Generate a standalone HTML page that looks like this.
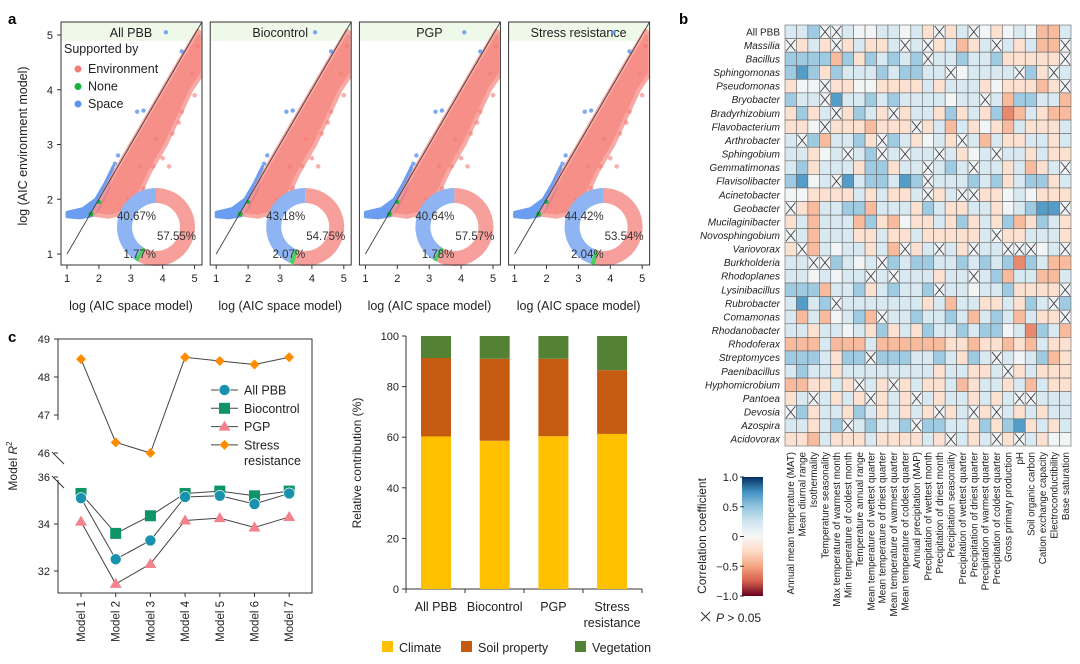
<!DOCTYPE html>
<html><head><meta charset="utf-8"><style>
html,body{margin:0;padding:0;background:#fff}
svg{display:block;font-family:"Liberation Sans",sans-serif}
</style></head><body>
<svg id="fig" width="1080" height="664" viewBox="0 0 1080 664" xmlns="http://www.w3.org/2000/svg">
<text x="8" y="24" font-size="15" font-weight="bold">a</text>
<text x="679" y="24" font-size="15" font-weight="bold">b</text>
<text x="8" y="342" font-size="15" font-weight="bold">c</text>
<g id="pa"></g><g id="pb"></g><g id="pc1"></g><g id="pc2"></g>
</svg>
<script>
const NS="http://www.w3.org/2000/svg";
function mk(p,t,a,txt){const e=document.createElementNS(NS,t);for(const k in a)e.setAttribute(k,a[k]);if(txt!==undefined)e.textContent=txt;p.appendChild(e);return e;}

// ---------- Panel a data ----------
const aTitles=["All PBB","Biocontrol","PGP","Stress resistance"];
const aEnvPct=[57.55,54.75,57.57,53.54];
const aNonePct=[1.77,2.07,1.78,2.04];
const aSpacePct=[40.67,43.18,40.64,44.42];
const aTicks=[1,2,3,4,5];
const redCloudX=[1.8,2.5,3.5,4.5,5.1,5.25,5.25,4.9,4.1,3.6,3.2,2.8,2.3];
const redCloudY=[1.72,2.5,3.5,4.5,5.08,5.0,4.3,4.0,3.0,2.5,2.0,1.75,1.68];
const blueCloudX=[1.0,1.0,1.5,1.9,2.2,2.45,2.3,2.0,1.8,1.4];
const blueCloudY=[1.68,1.76,1.83,2.0,2.3,2.6,2.2,1.85,1.7,1.66];
const redOutX=[3.4,3.7,4.0,4.3,4.6,4.9,5.0,3.0,2.9,4.5,3.8,5.1,4.2,3.3];
const redOutY=[2.2,2.6,2.75,3.2,3.6,4.3,3.9,1.9,2.0,3.4,3.1,4.8,2.6,2.6];
const blueOutX=[3.2,3.4,4.1,4.6,2.6,2.5];
const blueOutY=[3.6,3.62,5.05,4.7,2.8,2.65];

const pa=document.getElementById('pa');
aTitles.forEach((title,i)=>{
  const L=61+i*149.2,R=L+141,T=22,B=265;
  const sx=v=>L+6+(v-1)*31.9, sy=v=>254-(v-1)*54.75;
  const g=mk(pa,'g',{});
  
  
  mk(g,'rect',{x:L,y:T,width:R-L,height:19,fill:'#eef9ea'});
  mk(g,'text',{x:L+70,y:T+15,'font-size':12.5,'text-anchor':'middle',fill:'#222'},title);
  const cp=mk(g,'clipPath',{id:'clipA'+i});mk(cp,'rect',{x:L,y:T,width:R-L,height:B-T});
  const gg=mk(g,'g',{'clip-path':'url(#clipA'+i+')'});
  const bp=blueCloudX.map((x,k)=>sx(x)+','+sy(blueCloudY[k])).join(' ');
  mk(gg,'polygon',{points:bp,fill:'#5b93f0',opacity:0.9,'stroke':'#5b93f0','stroke-width':3,'stroke-linejoin':'round'});
  const rp=redCloudX.map((x,k)=>sx(x)+','+sy(redCloudY[k])).join(' ');
  mk(gg,'polygon',{points:rp,fill:'#f57c74',opacity:0.85,'stroke':'#f79b95','stroke-width':4,'stroke-linejoin':'round'});
  redOutX.forEach((x,k)=>mk(gg,'circle',{cx:sx(x),cy:sy(redOutY[k]),r:2.3,fill:'#f57c74',opacity:0.6}));
  blueOutX.forEach((x,k)=>mk(gg,'circle',{cx:sx(x),cy:sy(blueOutY[k]),r:2.2,fill:'#5b93f0',opacity:0.8}));
  mk(gg,'circle',{cx:sx(1.75),cy:sy(1.73),r:2.5,fill:'#17b33a'});
  mk(gg,'circle',{cx:sx(2.0),cy:sy(1.95),r:2,fill:'#17b33a'});
  mk(g,'line',{x1:sx(1),y1:sy(1),x2:sx(5.23),y2:T,stroke:'#333','stroke-width':0.8});
  // donut
  const cx=L+95,cy=227,ro=39,ri=24;
  const segs=[[aEnvPct[i],'#f7a09b'],[aNonePct[i],'#4ccf60'],[aSpacePct[i],'#8eb4f3']];
  let a0=0;
  segs.forEach(([p,c])=>{
    const a1=a0+p/100*2*Math.PI;
    const pt=(r,a)=>[cx+r*Math.sin(a),cy-r*Math.cos(a)];
    const lg=(a1-a0)>Math.PI?1:0;
    const [x1,y1]=pt(ro,a0),[x2,y2]=pt(ro,a1),[x3,y3]=pt(ri,a1),[x4,y4]=pt(ri,a0);
    mk(g,'path',{d:`M${x1},${y1}A${ro},${ro} 0 ${lg} 1 ${x2},${y2}L${x3},${y3}A${ri},${ri} 0 ${lg} 0 ${x4},${y4}Z`,fill:c});
    a0=a1;
  });
  mk(g,'text',{x:cx,y:cy-7,'font-size':11.5,'text-anchor':'end',fill:'#333'},aSpacePct[i].toFixed(2)+'%');
  mk(g,'text',{x:cx+1,y:cy+13,'font-size':11.5,fill:'#333'},aEnvPct[i].toFixed(2)+'%');
  mk(g,'text',{x:cx,y:cy+31,'font-size':11.5,'text-anchor':'end',fill:'#333'},aNonePct[i].toFixed(2)+'%');
  mk(g,'rect',{x:L,y:T,width:R-L,height:B-T,fill:'none',stroke:'#333','stroke-width':1});
  aTicks.forEach(t=>{
    mk(g,'line',{x1:sx(t),y1:B,x2:sx(t),y2:B+4,stroke:'#333'});
    mk(g,'text',{x:sx(t),y:B+17,'font-size':11,'text-anchor':'middle',fill:'#222'},t);
    if(i===0){
      mk(g,'line',{x1:L-4,y1:sy(t),x2:L,y2:sy(t),stroke:'#333'});
      mk(g,'text',{x:L-8,y:sy(t)+4,'font-size':11,'text-anchor':'end',fill:'#222'},t);
    }
  });
  mk(g,'text',{x:L+70,y:310,'font-size':12.5,'text-anchor':'middle',fill:'#222'},'log (AIC space model)');
});
(function(){
  const t=mk(pa,'text',{x:27,y:146,'font-size':12.5,'text-anchor':'middle',transform:'rotate(-90 27 146)',fill:'#222'},'log (AIC environment model)');
  
  mk(pa,'text',{x:64,y:53,'font-size':12.5,fill:'#222'},'Supported by');
  const ents=[['Environment','#f57c74'],['None','#17b33a'],['Space','#5b93f0']];
  ents.forEach((e,k)=>{
    const g=mk(pa,'g',{});
    
    
    mk(g,'circle',{cx:78,cy:69+k*17.5,r:3.5,fill:e[1]});
    mk(g,'text',{x:88,y:73+k*17.5,'font-size':12.5,fill:'#222'},e[0]);
  });
})();

// ---------- Panel b heatmap ----------
const rowNames=["All PBB","Massilia","Bacillus","Sphingomonas","Pseudomonas","Bryobacter","Bradyrhizobium","Flavobacterium","Arthrobacter","Sphingobium","Gemmatimonas","Flavisolibacter","Acinetobacter","Geobacter","Mucilaginibacter","Novosphingobium","Variovorax","Burkholderia","Rhodoplanes","Lysinibacillus","Rubrobacter","Comamonas","Rhodanobacter","Rhodoferax","Streptomyces","Paenibacillus","Hyphomicrobium","Pantoea","Devosia","Azospira","Acidovorax"];
const colNames=["Annual mean temperature (MAT)","Mean diurnal range","Isothermality","Temperature seasonality","Max temperature of warmest month","Min temperature of coldest month","Temperature annual range","Mean temperature of wettest quarter","Mean temperature of driest quarter","Mean temperature of warmest quarter","Mean temperature of coldest quarter","Annual precipitation (MAP)","Precipitation of wettest month","Precipitation of driest month","Precipitation seasonality","Precipitation of wettest quarter","Precipitation of driest quarter","Precipitation of warmest quarter","Precipitation of coldest quarter","Gross primary production","pH","Soil organic carbon","Cation exchange capacity","Electroconductibility","Base saturation"];
// codes: 1,2,3 = positive (0.2,0.45,0.7); p,q,s = negative (-0.2,-0.4,-0.6); 0 = ~0; x = P>0.05
const corrRows=["112xx1001101pxp1x0p010qq1x","xp1pxp1pp1x1xp1qp1x1p1qqx1","2222q2p21212x112112pppppx","232p2111212211x01111x2px1xx","p00xpp00pppp1p111p0pppqpx1","211x3112121111011x1q2211q","p2p1xp21pxp11p2p1p2sq1pqq","pp0xpppqpppxp1q1p0pq1ppp1","1x2q112px21p01px1q1pp11p1","11p01x12x1x11x1p01x11p1pp","12p111p22p11x121x11p1qp1xq","2301x3122132x111212p122p1","00pppp1p1pp1xp1xxpp010ppp","xpq1122q111p21pp11p01233xq","p1q111q2pq0pp1p2p1p2qp21pq","x1q111pp1pp1ppppp1xpp111p","pxq1011p1qxp1x1px11xxx01x","11xx2101x21221121212s21qq","1101011x1x111p11x12q11qq1","222q112p12112x110112ppppx","1312x1111111p1q11pp1p21x2","1q1q012qx1121121q121q1ppx","11p1101p2p1p211212201s21q","qqq1qqq1qqqqqqppqppqpq1pp","2221p22x2221121p21x1012qp","1211p11111111p11pp1xp1ppp","qqpp1px1pxp1pp1qp11p1q1pp","p1x1p1pxp1px1p11p1p1xx111","x2p11p21p1p1pxp1xpx1p1p11","11p12x12112x2211p2p23p1p1","ppq1ppp1pppp1px1p1xpx1p00"];
const codeVal={'0':0.03,'1':0.2,'2':0.45,'3':0.7,'p':-0.2,'q':-0.4,'s':-0.6,'x':0.05};
const stopsPos=[[0,[247,247,247]],[0.25,[209,229,240]],[0.5,[146,197,222]],[0.75,[67,147,195]],[1,[5,48,97]]];
const stopsNeg=[[0,[247,247,247]],[0.25,[253,219,199]],[0.5,[244,165,130]],[0.75,[214,96,77]],[1,[103,0,31]]];
function colr(v){const s=v>=0?stopsPos:stopsNeg;const a=Math.min(1,Math.abs(v));for(let k=1;k<s.length;k++){if(a<=s[k][0]){const f=(a-s[k-1][0])/(s[k][0]-s[k-1][0]);const c=s[k-1][1].map((q,j)=>Math.round(q+(s[k][1][j]-q)*f));return `rgb(${c})`;}}return 'rgb(5,48,97)';}
(function(){
  const pb=document.getElementById('pb');
  const X0=785,X1=1071,Y0=25,Y1=446;
  const nc=colNames.length,nr=rowNames.length;
  const cw=(X1-X0)/nc,rh=(Y1-Y0)/nr;
  const g=mk(pb,'g',{});
  
  
  rowNames.forEach((rn,r)=>{
    const lab=mk(pb,'text',{x:780,y:Y0+r*rh+rh/2+3.5,'font-size':10,'text-anchor':'end',fill:'#222','font-style':r===0?'normal':'italic'},rn);
    
    
    const s=corrRows[r];
    for(let c=0;c<nc;c++){
      const ch=s[c]||'0';
      const x=X0+c*cw,y=Y0+r*rh;
      const cell=mk(g,'rect',{x:x,y:y,width:cw,height:rh,fill:colr(codeVal[ch]),stroke:'#666','stroke-width':0.6});
      
      
      if(ch==='x'){
        mk(g,'path',{d:`M${x+1},${y+1}L${x+cw-1},${y+rh-1}M${x+cw-1},${y+1}L${x+1},${y+rh-1}`,stroke:'#333','stroke-width':0.8});
      }
    }
  });
  colNames.forEach((cn,c)=>{
    const x=X0+c*cw+cw/2+3.5;
    const t=mk(pb,'text',{x:x,y:452,'font-size':9.8,'text-anchor':'end',transform:`rotate(-90 ${x} 452)`,fill:'#222'},cn);
    
    
  });
  const cb=mk(pb,'g',{});
  
  
  const defs=mk(pb,'defs',{});
  const lg=mk(defs,'linearGradient',{id:'cbg',x1:0,y1:0,x2:0,y2:1});
  [1,0.75,0.5,0.25,0,-0.25,-0.5,-0.75,-1].forEach((v,k)=>mk(lg,'stop',{offset:(k/8),'stop-color':colr(v)}));
  mk(cb,'rect',{x:742,y:477,width:21,height:119,fill:'url(#cbg)'});
  const cbTicks=[1,0.5,0,-0.5,-1];
  const cbLab=["1.0","0.5","0","−0.5","−1.0"];
  cbTicks.forEach((v,k)=>{const y=477+(1-v)/2*119;mk(cb,'line',{x1:740,y1:y,x2:744,y2:y,stroke:'#333'});mk(cb,'text',{x:738,y:y+4,'font-size':11,'text-anchor':'end',fill:'#222'},cbLab[k]);});
  mk(pb,'text',{x:706,y:536,'font-size':12,'text-anchor':'middle',transform:'rotate(-90 706 536)',fill:'#222'},'Correlation coefficient');
  mk(pb,'path',{d:'M701,612L710,621M710,612L701,621',stroke:'#333','stroke-width':1});
  const pt=mk(pb,'text',{x:716,y:622,'font-size':12,fill:'#222'});
  mk(pt,'tspan',{'font-style':'italic'},'P');mk(pt,'tspan',{},' > 0.05');
})();

// ---------- Panel c line chart ----------
const models=["Model 1","Model 2","Model 3","Model 4","Model 5","Model 6","Model 7"];
const stressR2=[48.47,46.28,46.0,48.52,48.42,48.33,48.52];
const allR2=[35.1,32.5,33.3,35.15,35.2,34.85,35.3];
const bioR2=[35.3,33.6,34.35,35.3,35.4,35.2,35.4];
const pgpR2=[34.1,31.45,32.3,34.15,34.25,33.85,34.3];
const upTicks=[46,47,48,49];
const loTicks=[32,34,36];
(function(){
  const p=document.getElementById('pc1');
  const L=58,R=312,T=339,B=593;
  const sx=i=>81+i*34.7;
  const sy=v=>v>=45?339-(v-49)*38:477-(v-36)*23.5;
  mk(p,'polyline',{points:`${L},420 ${L},${T} ${R},${T} ${R},${B} ${L},${B} ${L},480`,fill:'none',stroke:'#333'});
  mk(p,'line',{x1:52,y1:452,x2:64,y2:464,stroke:'#333'});
  mk(p,'line',{x1:52,y1:476,x2:64,y2:488,stroke:'#333'});
  upTicks.concat(loTicks).forEach(t=>{mk(p,'line',{x1:L-4,y1:sy(t),x2:L,y2:sy(t),stroke:'#333'});mk(p,'text',{x:L-8,y:sy(t)+4,'font-size':11,'text-anchor':'end',fill:'#222'},t);});
  models.forEach((m,i)=>{mk(p,'line',{x1:sx(i),y1:B,x2:sx(i),y2:B+4,stroke:'#333'});mk(p,'text',{x:sx(i)+4,y:B+8,'font-size':11.5,'text-anchor':'end',transform:`rotate(-90 ${sx(i)+4} ${B+8})`,fill:'#222'},m);});
  const yl=mk(p,'text',{x:17,y:466,'font-size':12,'text-anchor':'middle',transform:'rotate(-90 17 466)',fill:'#222'});
  
  mk(yl,'tspan',{},'Model ');mk(yl,'tspan',{'font-style':'italic'},'R');mk(yl,'tspan',{'font-size':8,dy:-5},'2');
  const series=[["stress",stressR2,'#ff8c00','diamond'],["biocontrol",bioR2,'#0f9468','square'],["all-pbb",allR2,'#1993ad','circle'],["pgp",pgpR2,'#f4828c','triangle']];
  function marker(g,shape,x,y,c){
    if(shape==='circle')return mk(g,'circle',{cx:x,cy:y,r:5.5,fill:c,stroke:'#fff','stroke-width':0.6});
    if(shape==='square')return mk(g,'rect',{x:x-5.5,y:y-5.5,width:11,height:11,fill:c});
    if(shape==='diamond')return mk(g,'polygon',{points:`${x},${y-5} ${x+5},${y} ${x},${y+5} ${x-5},${y}`,fill:c});
    return mk(g,'polygon',{points:`${x},${y-6} ${x+6},${y+4} ${x-6},${y+4}`,fill:c});
  }
  series.forEach(([nm,vals,c,shape])=>{
    const g=mk(p,'g',{});
    
    
    mk(g,'polyline',{points:vals.map((v,i)=>sx(i)+','+sy(v)).join(' '),fill:'none',stroke:'#444','stroke-width':1});
    vals.forEach((v,i)=>{const m=marker(g,shape,sx(i),sy(v),c);});
  });
  const leg=[["All PBB",'#1993ad','circle'],["Biocontrol",'#0f9468','square'],["PGP",'#f4828c','triangle'],["Stress",'#ff8c00','diamond']];
  leg.forEach((e,k)=>{
    const y=390+k*18.3;
    const g=mk(p,'g',{});
    
    
    mk(g,'line',{x1:211,y1:y,x2:238,y2:y,stroke:'#444'});
    marker(g,e[2],224.5,y,e[1]);
    mk(g,'text',{x:244,y:y+4.5,'font-size':12.5,fill:'#222'},e[0]);
  });
  mk(p,'text',{x:244,y:465,'font-size':12.5,fill:'#222'},'resistance');
})();

// ---------- Panel c stacked bars ----------
const groups=["All PBB","Biocontrol","PGP","Stress resistance"];
const climate=[60.3,58.6,60.4,61.3];
const soil=[31.0,32.4,30.6,25.2];
const vegetation=[8.7,9.0,9.0,13.5];
const barTicks=[0,20,40,60,80,100];
(function(){
  const p=document.getElementById('pc2');
  const L=406,R=642,B=589,T=336;
  const sy=v=>B-(v/100)*(B-T);
  const sx=i=>436+i*58.7;
  mk(p,'line',{x1:L,y1:T,x2:L,y2:B,stroke:'#333'});
  mk(p,'line',{x1:L,y1:B,x2:R,y2:B,stroke:'#333'});
  barTicks.forEach(t=>{mk(p,'line',{x1:L-4,y1:sy(t),x2:L,y2:sy(t),stroke:'#333'});mk(p,'text',{x:L-7,y:sy(t)+4,'font-size':11,'text-anchor':'end',fill:'#222'},t);});
  [0,1,2,3,4].forEach(k=>{const x=L+k*(R-L)/4;mk(p,'line',{x1:x,y1:B,x2:x,y2:B+4,stroke:'#333'});});
  const cols=['#ffc000','#c55a11','#548235'];
  groups.forEach((gname,i)=>{
    const vals=[climate[i],soil[i],vegetation[i]];
    let base=0;
    vals.forEach((v,k)=>{
      const r=mk(p,'rect',{x:sx(i)-15,y:sy(base+v),width:30,height:sy(base)-sy(base+v),fill:cols[k]});
      
      
      base+=v;
    });
  });
  mk(p,'text',{x:sx(0),y:611,'font-size':12.5,'text-anchor':'middle',fill:'#222'},'All PBB');
  mk(p,'text',{x:sx(1),y:611,'font-size':12.5,'text-anchor':'middle',fill:'#222'},'Biocontrol');
  mk(p,'text',{x:sx(2),y:611,'font-size':12.5,'text-anchor':'middle',fill:'#222'},'PGP');
  mk(p,'text',{x:sx(3),y:611,'font-size':12.5,'text-anchor':'middle',fill:'#222'},'Stress');
  mk(p,'text',{x:sx(3),y:627,'font-size':12.5,'text-anchor':'middle',fill:'#222'},'resistance');
  const yl=mk(p,'text',{x:361,y:463,'font-size':12,'text-anchor':'middle',transform:'rotate(-90 361 463)',fill:'#222'},'Relative contribution (%)');
  
  const leg=[["Climate",382],["Soil property",461],["Vegetation",575]];
  leg.forEach((e,k)=>{
    const g=mk(p,'g',{});
    
    
    mk(g,'rect',{x:e[1],y:641,width:11,height:11,fill:cols[k]});
    mk(g,'text',{x:e[1]+17,y:652,'font-size':12.5,fill:'#222'},e[0]);
  });
})();
</script>
</body></html>
